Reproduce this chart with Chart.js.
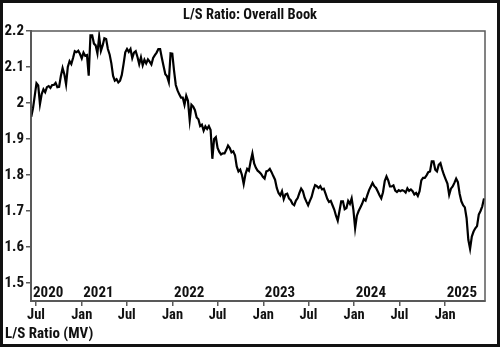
<!DOCTYPE html>
<html>
<head>
<meta charset="utf-8">
<title>L/S Ratio: Overall Book</title>
<script src="https://cdn.jsdelivr.net/npm/chart.js@4/dist/chart.umd.min.js"></script>
<style>
  html, body { margin: 0; padding: 0; background: #fff; }
  #frame { width: 500px; height: 347px; box-sizing: border-box; border: 3px solid #111; }
  #frame canvas { display: block; }
</style>
</head>
<body>
<div id="frame"><canvas id="chart" width="494" height="341"></canvas></div>
<script>
// weekly observations (Fridays) starting from firstWeek
const firstWeek = '2020-06-12';
const ratio = [
  1.962, 1.985, 2.020, 2.055, 2.049, 1.997, 2.025, 2.038, 2.030, 2.044,
  2.047, 2.042, 2.050, 2.050, 2.056, 2.044, 2.045, 2.075, 2.097, 2.080,
  2.052, 2.100, 2.116, 2.108, 2.125, 2.144, 2.141, 2.145, 2.136, 2.124,
  2.140, 2.131, 2.133, 2.076, 2.188, 2.188, 2.165, 2.160, 2.138, 2.185,
  2.145, 2.160, 2.180, 2.178, 2.150, 2.135, 2.110, 2.075, 2.062, 2.066,
  2.057, 2.062, 2.078, 2.108, 2.141, 2.150, 2.142, 2.150, 2.125, 2.140,
  2.144, 2.128, 2.108, 2.127, 2.105, 2.120, 2.110, 2.121, 2.115, 2.107,
  2.125, 2.133, 2.140, 2.150, 2.150, 2.125, 2.102, 2.080, 2.074, 2.058,
  2.138, 2.137, 2.090, 2.050, 2.035, 2.024, 2.015, 2.015, 1.995, 2.020,
  2.006, 1.952, 1.995, 1.990, 1.980, 1.960, 1.955, 1.936, 1.940, 1.923,
  1.935, 1.928, 1.936, 1.925, 1.845, 1.900, 1.905, 1.875, 1.864, 1.857,
  1.860, 1.860, 1.870, 1.882, 1.875, 1.863, 1.866, 1.855, 1.824, 1.810,
  1.815, 1.800, 1.775, 1.802, 1.817, 1.812, 1.838, 1.860, 1.832, 1.820,
  1.812, 1.808, 1.803, 1.795, 1.790, 1.810, 1.812, 1.817, 1.808, 1.797,
  1.787, 1.764, 1.750, 1.743, 1.755, 1.733, 1.746, 1.748, 1.735, 1.730,
  1.720, 1.716, 1.729, 1.736, 1.750, 1.762, 1.755, 1.737, 1.726, 1.716,
  1.728, 1.739, 1.758, 1.772, 1.769, 1.764, 1.769, 1.760, 1.762, 1.748,
  1.734, 1.725, 1.728, 1.716, 1.704, 1.687, 1.673, 1.700, 1.727, 1.727,
  1.705, 1.708, 1.728, 1.720, 1.735, 1.703, 1.652, 1.687, 1.700, 1.710,
  1.720, 1.733, 1.729, 1.744, 1.758, 1.768, 1.778, 1.769, 1.764, 1.754,
  1.744, 1.735, 1.752, 1.783, 1.796, 1.785, 1.768, 1.768, 1.771, 1.757,
  1.753, 1.758, 1.755, 1.758, 1.756, 1.751, 1.763, 1.756, 1.760, 1.755,
  1.746, 1.750, 1.742, 1.755, 1.785, 1.792, 1.792, 1.799, 1.808, 1.810,
  1.838, 1.838, 1.815, 1.810, 1.828, 1.833, 1.815, 1.800, 1.788, 1.776,
  1.745, 1.762, 1.768, 1.778, 1.790, 1.780, 1.748, 1.727, 1.716, 1.710,
  1.680, 1.620, 1.595, 1.629, 1.643, 1.652, 1.658, 1.690, 1.700, 1.713,
  1.735
];

const tickDates = ['2020-07-01', '2021-01-01', '2021-07-01', '2022-01-01', '2022-07-01',
                   '2023-01-01', '2023-07-01', '2024-01-01', '2024-07-01', '2025-01-01'];
const tickLabels = ['Jul', 'Jan', 'Jul', 'Jan', 'Jul', 'Jan', 'Jul', 'Jan', 'Jul', 'Jan'];
const yearLabels = ['2020', '2021', '2022', '2023', '2024', '2025'];
const yTicks = [1.5, 1.6, 1.7, 1.8, 1.9, 2.0, 2.1, 2.2];

const DAY = 86400000;
const FONT = "'Liberation Sans Narrow', 'Roboto Condensed', 'DejaVu Sans Condensed', sans-serif";
const AXIS = '#5a5a5a';
const INK = '#111';

const t0 = Date.parse(firstWeek);
const points = ratio.map((v, i) => ({ x: t0 + i * 7 * DAY, y: v }));

// box around the plot, title, footer and the year markers along the bottom
const framePlugin = {
  id: 'frame',
  afterDraw(chart) {
    const { ctx, chartArea: a, scales } = chart;
    ctx.save();
    ctx.strokeStyle = AXIS;
    ctx.lineWidth = 1.5;
    ctx.strokeRect(a.left, a.top, a.right - a.left, a.bottom - a.top);

    ctx.fillStyle = INK;
    ctx.textBaseline = 'alphabetic';
    ctx.font = 'bold 14.5px ' + FONT;
    ctx.textAlign = 'center';
    ctx.fillText('L/S Ratio: Overall Book', 247, 15.5);

    ctx.font = 'bold 15px ' + FONT;
    ctx.textAlign = 'left';
    ctx.fillText('L/S Ratio (MV)', 2, 335);

    yearLabels.forEach((yr, i) => {
      const x = i === 0 ? a.left + 2 : scales.x.getPixelForValue(Date.UTC(+yr, 0, 1)) + 1.5;
      ctx.fillText(yr, x, a.bottom - 4);
    });
    ctx.restore();
  }
};

new Chart(document.getElementById('chart'), {
  type: 'line',
  data: {
    datasets: [{
      label: 'L/S Ratio (MV)',
      data: points,
      borderColor: '#000',
      borderWidth: 2.2,
      borderJoinStyle: 'miter',
      pointRadius: 0,
      tension: 0
    }]
  },
  options: {
    responsive: false,
    animation: false,
    layout: { padding: { top: 28, right: 12, left: 0, bottom: 0 } },
    plugins: {
      legend: { display: false },
      tooltip: { enabled: false }
    },
    scales: {
      x: {
        type: 'linear',
        min: Date.UTC(2020, 5, 11),
        max: Date.UTC(2025, 5, 10),
        afterBuildTicks: scale => { scale.ticks = tickDates.map(d => ({ value: Date.parse(d) })); },
        afterFit: scale => { scale.height = 43; },
        ticks: {
          autoSkip: false,
          maxRotation: 0,
          padding: 1,
          color: INK,
          font: { family: FONT, size: 14.5, weight: 'bold' },
          callback: (v, i) => tickLabels[i]
        },
        grid: { drawOnChartArea: false, drawTicks: true, tickLength: 5, color: AXIS, lineWidth: 1.5 },
        border: { display: true, color: AXIS, width: 2 }
      },
      y: {
        min: 1.45,
        max: 2.2,
        afterBuildTicks: scale => { scale.ticks = yTicks.map(v => ({ value: v })); },
        afterFit: scale => { scale.width = 28; },
        ticks: {
          padding: 2,
          color: INK,
          font: { family: FONT, size: 15, weight: 'bold' },
          callback: v => String(+v.toFixed(1))
        },
        grid: { drawOnChartArea: false, drawTicks: true, tickLength: 5, color: AXIS, lineWidth: 1.5 },
        border: { display: true, color: AXIS, width: 2 }
      }
    }
  },
  plugins: [framePlugin]
});
</script>
</body>
</html>
